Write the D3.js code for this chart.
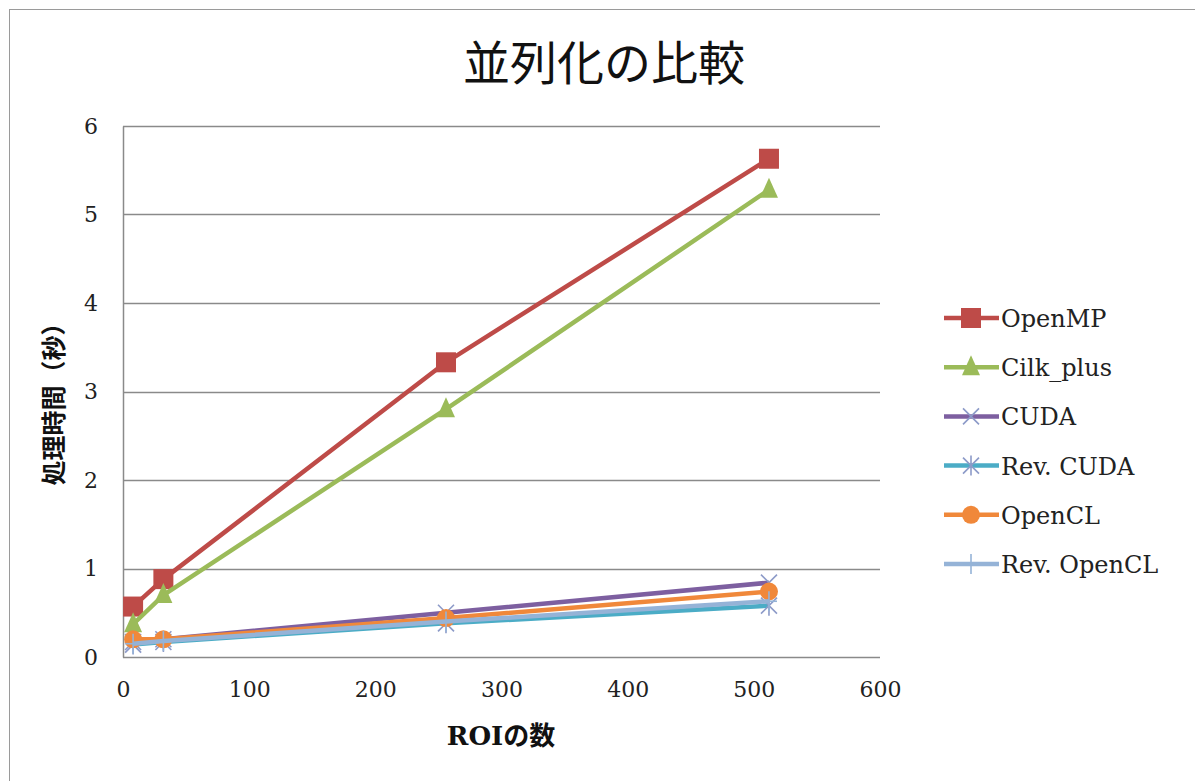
<!DOCTYPE html>
<html>
<head>
<meta charset="utf-8">
<script src="https://cdn.jsdelivr.net/npm/d3@7"></script>
<style>
  body { margin: 0; background: #fff; }
  text { font-family: "DejaVu Serif", "Liberation Serif", "Noto Sans CJK JP", serif; }
</style>
</head>
<body>
<div id="chart"></div>
<script>
const roi = [8, 32, 256, 512];
const seriesNames = ["OpenMP", "Cilk_plus", "CUDA", "Rev. CUDA", "OpenCL", "Rev. OpenCL"];
const openmp = [0.57, 0.88, 3.33, 5.63];
const cilk = [0.37, 0.70, 2.80, 5.28];
const cuda = [0.17, 0.20, 0.50, 0.84];
const revCuda = [0.14, 0.17, 0.38, 0.58];
const opencl = [0.20, 0.20, 0.44, 0.74];
const revOpencl = [0.15, 0.18, 0.40, 0.63];
const xTicks = [0, 100, 200, 300, 400, 500, 600];
const yTicks = [0, 1, 2, 3, 4, 5, 6];

const colors = ["#BE4B48", "#9BBB59", "#7D5FA0", "#4BACC6", "#F0883A", "#95B3D7"];
const shapes = ["square", "triangle", "x", "asterisk", "circle", "plus"];

const width = 1195, height = 781;
const margin = { top: 126, bottom: 124, left: 123, right: 315 };

const svg = d3.select("#chart").append("svg")
  .attr("width", width)
  .attr("height", height);

// outer chart border
svg.append("rect")
  .attr("x", 9.5).attr("y", 9.5)
  .attr("width", width + 20).attr("height", height + 20)
  .attr("fill", "none").attr("stroke", "#9a9a9a");

const xScale = d3.scaleLinear().domain([0, 600]).range([margin.left, width - margin.right]);
const yScale = d3.scaleLinear().domain([0, 6]).range([height - margin.bottom, margin.top]);

// gridlines
svg.append("g")
  .selectAll("line")
  .data(yTicks)
  .join("line")
  .attr("x1", xScale(0)).attr("x2", xScale(600))
  .attr("y1", d => Math.round(yScale(d)) + 0.5).attr("y2", d => Math.round(yScale(d)) + 0.5)
  .attr("stroke", "#8a8a8a").attr("stroke-width", 1.5);

// y axis
svg.append("g")
  .attr("transform", `translate(${xScale(0)},0)`)
  .call(d3.axisLeft(yScale).tickValues(yTicks).tickFormat(d3.format("d")).tickSize(0).tickPadding(32))
  .call(g => g.select(".domain").attr("stroke", "#8a8a8a").attr("stroke-width", 1.5))
  .selectAll("text")
  .style("font-size", "22px").attr("fill", "#222")
  .attr("text-anchor", "middle");

// x axis
svg.append("g")
  .attr("transform", `translate(0,${yScale(0)})`)
  .call(d3.axisBottom(xScale).tickValues(xTicks).tickSize(0).tickPadding(24))
  .call(g => g.select(".domain").remove())
  .selectAll("text")
  .style("font-size", "22px").attr("fill", "#222");

// titles
svg.append("text")
  .attr("x", 604).attr("y", 80)
  .attr("text-anchor", "middle")
  .style("font-family", "'Noto Sans CJK JP', sans-serif")
  .style("font-size", "47px").attr("fill", "#111")
  .text("並列化の比較");

svg.append("text")
  .attr("x", 501).attr("y", 745)
  .attr("text-anchor", "middle")
  .style("font-size", "26px").style("font-weight", "bold").attr("fill", "#111")
  .text("ROIの数");

svg.append("text")
  .attr("transform", `translate(63,398) rotate(-90)`)
  .attr("text-anchor", "middle")
  .style("font-family", "'Noto Sans CJK JP', sans-serif")
  .style("font-size", "25px").style("font-weight", "bold").attr("fill", "#111")
  .text("処理時間（秒）");

// markers
function drawMarker(g, shape, color, x, y) {
  if (shape === "square") {
    g.append("rect").attr("x", x - 10).attr("y", y - 10).attr("width", 20).attr("height", 20).attr("fill", color);
  } else if (shape === "triangle") {
    g.append("path").attr("d", `M${x},${y - 12}L${x + 9},${y + 8}L${x - 9},${y + 8}Z`).attr("fill", color);
  } else if (shape === "circle") {
    g.append("circle").attr("cx", x).attr("cy", y).attr("r", 9).attr("fill", color);
  } else {
    const s = 8;
    let segs = [];
    if (shape === "x" || shape === "asterisk") segs.push([-s, -s, s, s], [-s, s, s, -s]);
    if (shape === "plus" || shape === "asterisk") segs.push([0, -s - 2, 0, s + 2]);
    if (shape === "plus") segs.push([-s, 0, s, 0]);
    segs.forEach(p => g.append("line")
      .attr("x1", x + p[0]).attr("y1", y + p[1]).attr("x2", x + p[2]).attr("y2", y + p[3])
      .attr("stroke", shape === "plus" ? color : "#8c9ac8").attr("stroke-width", 1.6));
  }
}

const allSeries = [openmp, cilk, cuda, revCuda, opencl, revOpencl];
const line = d3.line().x((d, i) => xScale(roi[i])).y(d => yScale(d));

allSeries.forEach((vals, k) => {
  const g = svg.append("g");
  g.append("path")
    .datum(vals)
    .attr("d", line)
    .attr("fill", "none")
    .attr("stroke", colors[k])
    .attr("stroke-width", 4.5)
    .attr("stroke-linejoin", "round");
  vals.forEach((v, i) => drawMarker(g, shapes[k], colors[k], xScale(roi[i]), yScale(v)));
});

// legend
const legend = svg.append("g");
seriesNames.forEach((name, k) => {
  const y = 318 + k * 49.2;
  const g = legend.append("g");
  g.append("line")
    .attr("x1", 944).attr("x2", 999).attr("y1", y).attr("y2", y)
    .attr("stroke", colors[k]).attr("stroke-width", 4.5);
  drawMarker(g, shapes[k], colors[k], 971, y);
  g.append("text")
    .attr("x", 1001).attr("y", y + 9)
    .style("font-size", "24px").attr("fill", "#222")
    .text(name);
});
</script>
</body>
</html>
